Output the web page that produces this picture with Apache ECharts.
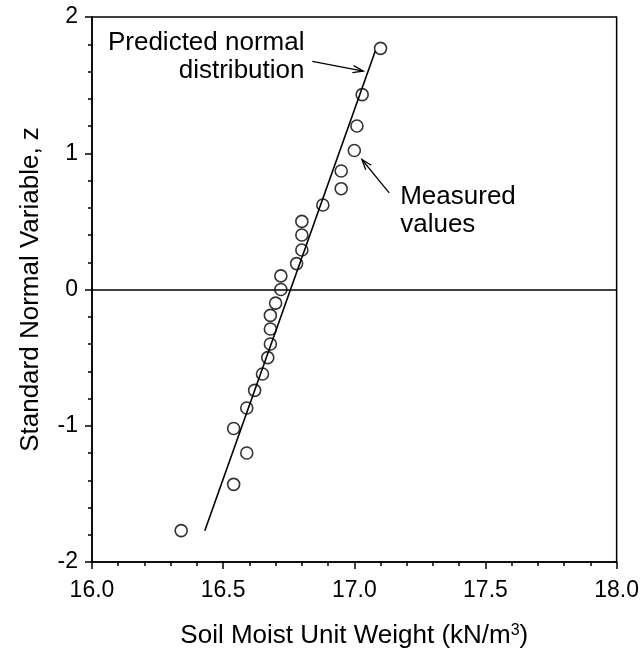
<!DOCTYPE html>
<html>
<head>
<meta charset="utf-8">
<script src="https://cdn.jsdelivr.net/npm/echarts@6/dist/echarts.min.js"></script>
<style>
  html, body { margin: 0; padding: 0; background: #fff; }
  #chart { width: 642px; height: 658px; }
</style>
</head>
<body>
<div id="chart"></div>
<script>
// Measured soil moist unit weights (kN/m^3) and their standard normal variables
const weight = [16.34, 16.54, 16.59, 16.54, 16.59, 16.62, 16.65, 16.67, 16.68, 16.68, 16.68, 16.70, 16.72,
                16.72, 16.78, 16.80, 16.80, 16.80, 16.88, 16.95, 16.95, 17.00, 17.01, 17.03, 17.10];
const zScore = [-1.77, -1.43, -1.20, -1.02, -0.87, -0.74, -0.62, -0.50, -0.40, -0.29, -0.19, -0.10, 0.00,
                0.10, 0.19, 0.29, 0.40, 0.50, 0.62, 0.74, 0.87, 1.02, 1.20, 1.43, 1.77];

// Predicted normal distribution (straight line on the probability scale)
const predictedX = [16.43, 17.08];
const predictedZ = [-1.77, 1.75];

// Axis ticks
const xTicks = [16.0, 16.5, 17.0, 17.5, 18.0];
const zTicks = [-2, -1, 0, 1, 2];

// Callouts: [text lines, anchor x, anchor z (top of text), align]; arrows: [tailX, tailZ, headX, headZ]
const calloutText = [
  [['Predicted normal', 'distribution'], 16.81, 1.91, 'right'],
  [['Measured', 'values'], 17.175, 0.78, 'left']
];
const calloutArrows = [
  [16.84, 1.675, 17.034, 1.603],
  [17.133, 0.709, 17.029, 0.954]
];

const FONT = '"Liberation Sans", Arial, Helvetica, sans-serif';
const chart = echarts.init(document.getElementById('chart'), null, { renderer: 'canvas' });

const points = weight.map((w, i) => [w, zScore[i]]);
const lineData = predictedX.map((x, i) => [x, predictedZ[i]]);

chart.setOption({
  animation: false,
  backgroundColor: '#fff',
  grid: {
    left: 92, right: 24, top: 17, bottom: 96,
    show: true, borderColor: '#000', borderWidth: 1.5, backgroundColor: 'transparent'
  },
  xAxis: {
    type: 'value',
    min: xTicks[0], max: xTicks[xTicks.length - 1], interval: 0.5,
    name: 'Soil Moist Unit Weight (kN/m{sup|3})',
    nameLocation: 'middle', nameGap: 61,
    nameTextStyle: {
      fontFamily: FONT, fontSize: 26, color: '#000',
      rich: { sup: { fontFamily: FONT, fontSize: 16, color: '#000', verticalAlign: 'top', lineHeight: 14 } }
    },
    axisLine: { show: true, onZero: false, lineStyle: { color: '#000', width: 1.5 } },
    axisTick: { show: true, inside: false, length: 7, lineStyle: { color: '#000', width: 1.5 } },
    minorTick: { show: true, splitNumber: 5, length: 4, lineStyle: { color: '#000', width: 1.5 } },
    splitLine: { show: false },
    axisLabel: { fontFamily: FONT, fontSize: 23, color: '#000', margin: 17,
                 formatter: v => v.toFixed(1) }
  },
  yAxis: {
    type: 'value',
    min: zTicks[0], max: zTicks[zTicks.length - 1], interval: 1,
    name: 'Standard Normal Variable, z',
    nameLocation: 'middle', nameGap: 48, nameRotate: 90,
    nameTextStyle: { fontFamily: FONT, fontSize: 26, color: '#000' },
    axisLine: { show: true, onZero: false, lineStyle: { color: '#000', width: 1.5 } },
    axisTick: { show: true, inside: false, length: 7, lineStyle: { color: '#000', width: 1.5 } },
    minorTick: { show: true, splitNumber: 5, length: 4, lineStyle: { color: '#000', width: 1.5 } },
    splitLine: { show: false },
    axisLabel: { fontFamily: FONT, fontSize: 23, color: '#000', margin: 14 }
  },
  series: [
    {
      name: 'Predicted normal distribution',
      type: 'line',
      data: lineData,
      symbol: 'none',
      lineStyle: { color: '#000', width: 1.6 },
      silent: true,
      z: 2,
      markLine: {
        silent: true,
        symbol: 'none',
        label: { show: false },
        lineStyle: { color: '#000', width: 1.5, type: 'solid' },
        data: [{ yAxis: 0 }]
      }
    },
    {
      name: 'Measured values',
      type: 'scatter',
      data: points,
      symbol: 'circle',
      symbolSize: 12,
      itemStyle: { color: 'rgba(255,255,255,0)', borderColor: '#000', borderWidth: 1.6 },
      z: 3
    }
  ]
});

// Callout text and arrows, positioned from data coordinates
function px(x, z) { return chart.convertToPixel({ gridIndex: 0 }, [x, z]); }

const graphics = [];
calloutText.forEach(([lines, x, z, align]) => {
  const p = px(x, z);
  graphics.push({
    type: 'text', x: p[0], y: p[1], silent: true,
    style: {
      text: lines.join('\n'), fill: '#000', font: '26px ' + FONT,
      align: align, verticalAlign: 'top', lineHeight: 28
    }
  });
});
calloutArrows.forEach(([tx, tz, hx, hz]) => {
  const t = px(tx, tz), h = px(hx, hz);
  const ang = Math.atan2(h[1] - t[1], h[0] - t[0]);
  const len = 11, spread = 0.33;
  const a1 = [h[0] - len * Math.cos(ang - spread), h[1] - len * Math.sin(ang - spread)];
  const a2 = [h[0] - len * Math.cos(ang + spread), h[1] - len * Math.sin(ang + spread)];
  graphics.push({
    type: 'polyline', silent: true,
    shape: { points: [t, h] },
    style: { stroke: '#000', lineWidth: 1.3, fill: null }
  });
  graphics.push({
    type: 'polyline', silent: true,
    shape: { points: [a1, h, a2] },
    style: { stroke: '#000', lineWidth: 1.3, fill: null }
  });
});
chart.setOption({ graphic: graphics });
</script>
</body>
</html>
